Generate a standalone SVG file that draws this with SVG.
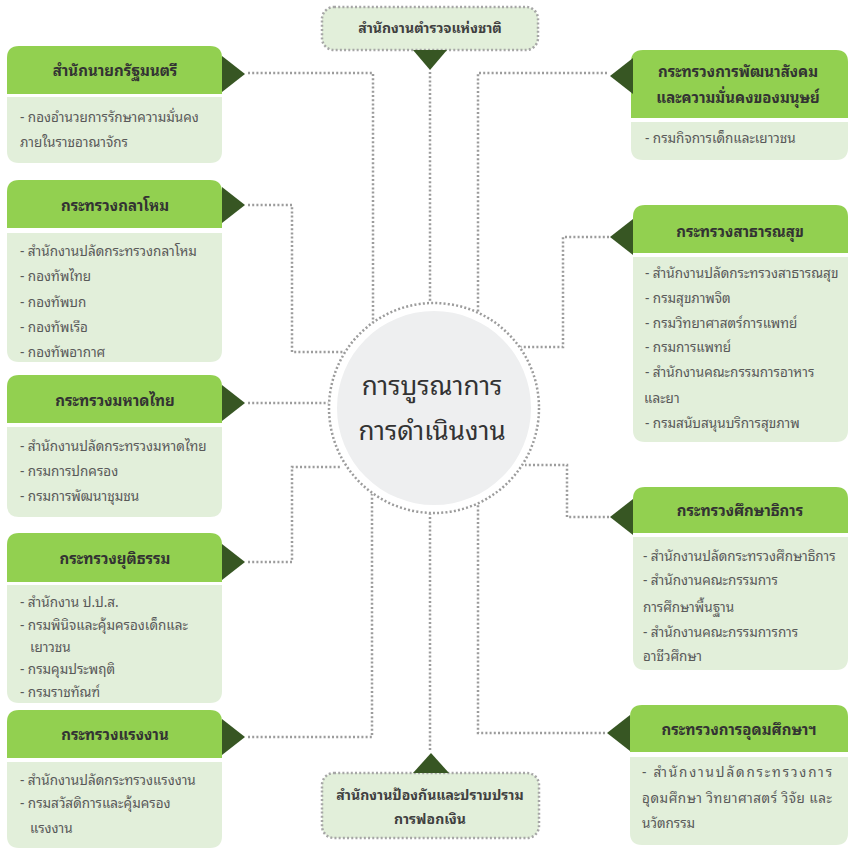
<svg xmlns="http://www.w3.org/2000/svg" width="849" height="849" viewBox="0 0 849 849">
<style>
text{font-family:"Noto Sans Thai Looped","Noto Sans Thai","Tahoma","Noto Sans","DejaVu Sans",sans-serif}
.hd{fill:#92d050}
.bd{fill:#e2efda}
.tri{fill:#375623}
.ht{font-size:15px;font-weight:bold;fill:#333;text-anchor:middle}
.bt{font-size:13.5px;fill:#595959}
.ln{fill:none;stroke:#9c9c9c;stroke-width:2.5;stroke-dasharray:2 2.2}
.sb{fill:#e2efda;stroke:#a6a6a6;stroke-width:2.5;stroke-dasharray:2 2.2}
.st{font-size:14px;font-weight:bold;fill:#404040;text-anchor:middle}
</style>
<rect width="849" height="849" fill="#fff"/>
<g id="connectors">
<polyline class="ln" points="248,73 373,73 373,330"/>
<polyline class="ln" points="430,72 430,310"/>
<polyline class="ln" points="607,73 478,73 478,330"/>
<polyline class="ln" points="248,205 292,205 292,352 345,352"/>
<polyline class="ln" points="248,403 340,403"/>
<polyline class="ln" points="248,562 292,562 292,467 340,467"/>
<polyline class="ln" points="248,737 372,737 372,490"/>
<polyline class="ln" points="430,750 430,505"/>
<polyline class="ln" points="605,733 478,733 478,490"/>
<polyline class="ln" points="609,237 563,237 563,347 520,347"/>
<polyline class="ln" points="609,517 567,517 567,465 525,465"/>
</g>
<g id="center">
<circle cx="434" cy="408" r="106" fill="#fff"/>
<circle cx="434" cy="408" r="105" fill="none" stroke="#9c9c9c" stroke-width="2.5" stroke-dasharray="2 2.2"/>
<circle cx="434" cy="408" r="97" fill="#eeeff0"/>
<text x="432" y="395" font-size="26" fill="#333" text-anchor="middle">การบูรณาการ</text>
<text x="432" y="440" font-size="26" fill="#333" text-anchor="middle">การดำเนินงาน</text>
</g>
<g id="police">
<rect class="sb" x="322" y="7" width="216" height="43" rx="12"/>
<polygon class="tri" points="413,50 447,50 430,70"/>
<text class="st" x="430" y="33">สำนักงานตำรวจแห่งชาติ</text>
</g>
<g id="amlo">
<rect class="sb" x="322" y="773" width="217" height="65" rx="12"/>
<polygon class="tri" points="413,773 449,773 431,753"/>
<text class="st" x="430" y="800">สำนักงานป้องกันและปราบปราม</text>
<text class="st" x="430" y="824">การฟอกเงิน</text>
</g>
<g id="pm">
<path class="hd" d="M7,94 V58 Q7,46 19,46 H210 Q222,46 222,58 V94 Z"/>
<path class="bd" d="M7,97 H222 V151 Q222,163 210,163 H19 Q7,163 7,151 Z"/>
<polygon class="tri" points="222,56 245,74 222,92"/>
<text class="ht" x="115" y="76">สำนักนายกรัฐมนตรี</text>
<text class="bt" x="20" y="122">- กองอำนวยการรักษาความมั่นคง</text>
<text class="bt" x="20" y="147">ภายในราชอาณาจักร</text>
</g>
<g id="defence">
<path class="hd" d="M7,228 V192 Q7,180 19,180 H210 Q222,180 222,192 V228 Z"/>
<path class="bd" d="M7,233 H222 V350 Q222,362 210,362 H19 Q7,362 7,350 Z"/>
<polygon class="tri" points="222,187 245,205 222,223"/>
<text class="ht" x="115" y="211">กระทรวงกลาโหม</text>
<text class="bt" x="20" y="256">- สำนักงานปลัดกระทรวงกลาโหม</text>
<text class="bt" x="20" y="281">- กองทัพไทย</text>
<text class="bt" x="20" y="307">- กองทัพบก</text>
<text class="bt" x="20" y="332">- กองทัพเรือ</text>
<text class="bt" x="20" y="357">- กองทัพอากาศ</text>
</g>
<g id="interior">
<path class="hd" d="M7,423 V387 Q7,375 19,375 H210 Q222,375 222,387 V423 Z"/>
<path class="bd" d="M7,427 H222 V505 Q222,517 210,517 H19 Q7,517 7,505 Z"/>
<polygon class="tri" points="222,385 245,403 222,421"/>
<text class="ht" x="115" y="406">กระทรวงมหาดไทย</text>
<text class="bt" x="20" y="451">- สำนักงานปลัดกระทรวงมหาดไทย</text>
<text class="bt" x="20" y="476">- กรมการปกครอง</text>
<text class="bt" x="20" y="501">- กรมการพัฒนาชุมชน</text>
</g>
<g id="justice">
<path class="hd" d="M7,582 V545 Q7,533 19,533 H210 Q222,533 222,545 V582 Z"/>
<path class="bd" d="M7,585 H222 V691 Q222,703 210,703 H19 Q7,703 7,691 Z"/>
<polygon class="tri" points="222,544 245,562 222,580"/>
<text class="ht" x="115" y="564">กระทรวงยุติธรรม</text>
<text class="bt" x="20" y="607">- สำนักงาน ป.ป.ส.</text>
<text class="bt" x="20" y="630">- กรมพินิจและคุ้มครองเด็กและ</text>
<text class="bt" x="30" y="652">เยาวชน</text>
<text class="bt" x="20" y="674">- กรมคุมประพฤติ</text>
<text class="bt" x="20" y="697">- กรมราชทัณฑ์</text>
</g>
<g id="labour">
<path class="hd" d="M7,758 V722 Q7,710 19,710 H210 Q222,710 222,722 V758 Z"/>
<path class="bd" d="M7,762 H222 V836 Q222,848 210,848 H19 Q7,848 7,836 Z"/>
<polygon class="tri" points="222,719 245,737 222,755"/>
<text class="ht" x="115" y="740">กระทรวงแรงงาน</text>
<text class="bt" x="20" y="785">- สำนักงานปลัดกระทรวงแรงงาน</text>
<text class="bt" x="20" y="808">- กรมสวัสดิการและคุ้มครอง</text>
<text class="bt" x="30" y="833">แรงงาน</text>
</g>
<g id="social">
<path class="hd" d="M631,118 V62 Q631,50 643,50 H836 Q848,50 848,62 V118 Z"/>
<path class="bd" d="M631,122 H848 V148 Q848,160 836,160 H643 Q631,160 631,148 Z"/>
<polygon class="tri" points="633,58 610,76 633,94"/>
<text class="ht" x="738" y="77">กระทรวงการพัฒนาสังคม</text>
<text class="ht" x="738" y="103">และความมั่นคงของมนุษย์</text>
<text class="bt" x="645" y="143">- กรมกิจการเด็กและเยาวชน</text>
</g>
<g id="health">
<path class="hd" d="M633,253 V217 Q633,205 645,205 H836 Q848,205 848,217 V253 Z"/>
<path class="bd" d="M633,257 H848 V430 Q848,442 836,442 H645 Q633,442 633,430 Z"/>
<polygon class="tri" points="633,219 610,237 633,255"/>
<text class="ht" x="740" y="237">กระทรวงสาธารณสุข</text>
<text class="bt" x="645" y="278">- สำนักงานปลัดกระทรวงสาธารณสุข</text>
<text class="bt" x="645" y="303">- กรมสุขภาพจิต</text>
<text class="bt" x="645" y="328">- กรมวิทยาศาสตร์การแพทย์</text>
<text class="bt" x="645" y="352">- กรมการแพทย์</text>
<text class="bt" x="645" y="377">- สำนักงานคณะกรรมการอาหาร</text>
<text class="bt" x="644" y="403">และยา</text>
<text class="bt" x="645" y="428">- กรมสนับสนุนบริการสุขภาพ</text>
</g>
<g id="education">
<path class="hd" d="M633,533 V499 Q633,487 645,487 H836 Q848,487 848,499 V533 Z"/>
<path class="bd" d="M633,537 H848 V658 Q848,670 836,670 H645 Q633,670 633,658 Z"/>
<polygon class="tri" points="633,499 610,517 633,535"/>
<text class="ht" x="740" y="516">กระทรวงศึกษาธิการ</text>
<text class="bt" x="643" y="561">- สำนักงานปลัดกระทรวงศึกษาธิการ</text>
<text class="bt" x="643" y="585">- สำนักงานคณะกรรมการ</text>
<text class="bt" x="643" y="612">การศึกษาพื้นฐาน</text>
<text class="bt" x="643" y="637">- สำนักงานคณะกรรมการการ</text>
<text class="bt" x="643" y="661">อาชีวศึกษา</text>
</g>
<g id="higher">
<path class="hd" d="M630,752 V717 Q630,705 642,705 H836 Q848,705 848,717 V752 Z"/>
<path class="bd" d="M630,757 H848 V833 Q848,845 836,845 H642 Q630,845 630,833 Z"/>
<polygon class="tri" points="630,715 607,733 630,751"/>
<text class="ht" x="739" y="735">กระทรวงการอุดมศึกษาฯ</text>
<text class="bt" x="642" y="777" textLength="190" lengthAdjust="spacing">- สำนักงานปลัดกระทรวงการ</text>
<text class="bt" x="642" y="803" textLength="190" lengthAdjust="spacing">อุดมศึกษา วิทยาศาสตร์ วิจัย และ</text>
<text class="bt" x="642" y="828">นวัตกรรม</text>
</g>
</svg>
